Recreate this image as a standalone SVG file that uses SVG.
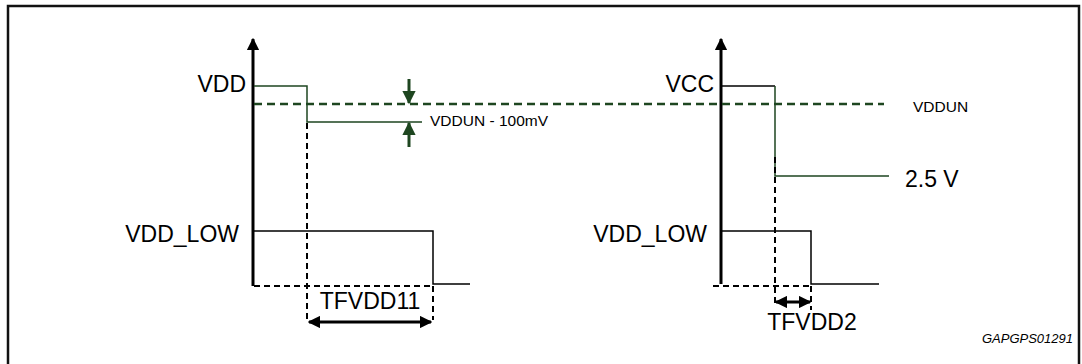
<svg xmlns="http://www.w3.org/2000/svg" width="1082" height="364" viewBox="0 0 1082 364">
<defs>
<style>
text{font-family:"Liberation Sans",Arial,sans-serif;fill:#000}
.lbl{font-size:23px}
.sm{font-size:15.5px}
.axis{stroke:#000;stroke-width:3;fill:none}
.blk{stroke:#000;stroke-width:1.5;fill:none}
.grn{stroke:#1e4620;stroke-width:1.5;fill:none}
.gdash{stroke:#1e4620;stroke-width:2.5;stroke-dasharray:8,5;fill:none}
.bdash{stroke:#000;stroke-width:2;stroke-dasharray:6,4;fill:none}
</style>
<marker id="ah" viewBox="0 0 10 10" refX="9" refY="5" markerWidth="4.3" markerHeight="4.2" orient="auto-start-reverse" markerUnits="strokeWidth"><path d="M0,0L10,5L0,10z" fill="#000"/></marker>
<marker id="gh" viewBox="0 0 10 10" refX="9" refY="5" markerWidth="4.6" markerHeight="4.4" orient="auto" markerUnits="strokeWidth"><path d="M0,0L10,5L0,10z" fill="#1e4620"/></marker>
</defs>
<path d="M8,364V6H1079V364" fill="none" stroke="#111" stroke-width="2.5"/>
<g id="connectors">
<line class="axis" x1="253" y1="286" x2="253" y2="39" marker-end="url(#ah)"/>
<line class="axis" x1="721" y1="284" x2="721" y2="39" marker-end="url(#ah)"/>
<line class="gdash" x1="254" y1="104" x2="884" y2="104"/>
<path class="grn" d="M254,86H307V122H422"/>
<line stroke="#1e4620" stroke-width="3" x1="409" y1="79" x2="409" y2="103" marker-end="url(#gh)"/>
<line stroke="#1e4620" stroke-width="3" x1="409" y1="147" x2="409" y2="123" marker-end="url(#gh)"/>
<path class="blk" d="M254,231H433V284H470"/>
<line class="bdash" x1="254" y1="286" x2="433" y2="286"/>
<line class="bdash" x1="307" y1="123" x2="307" y2="320"/>
<line class="bdash" x1="433" y1="286" x2="433" y2="320"/>
<line stroke="#000" stroke-width="3" x1="309" y1="322" x2="431" y2="322" marker-start="url(#ah)" marker-end="url(#ah)"/>
<path class="blk" d="M722,86H775"/>
<path class="grn" d="M775,86V176H889"/>
<line class="bdash" x1="775" y1="157" x2="775" y2="304"/>
<path class="blk" d="M722,231H811V284H879"/>
<line class="bdash" x1="713" y1="286" x2="811" y2="286"/>
<line class="bdash" x1="811" y1="286" x2="811" y2="310"/>
<line stroke="#000" stroke-width="3" x1="776" y1="302" x2="810" y2="302" marker-start="url(#ah)" marker-end="url(#ah)"/>
</g>
<g id="labels-left">
<text class="lbl" x="246" y="92" text-anchor="end">VDD</text>
<text class="lbl" x="239" y="242" text-anchor="end">VDD_LOW</text>
<text class="sm" x="430" y="126">VDDUN - 100mV</text>
<text class="lbl" x="370" y="309" text-anchor="middle">TFVDD11</text>
</g>
<g id="labels-right">
<text class="lbl" x="714" y="92" text-anchor="end">VCC</text>
<text class="lbl" x="707" y="242" text-anchor="end">VDD_LOW</text>
<text class="sm" x="913" y="112">VDDUN</text>
<text class="lbl" x="905" y="187">2.5 V</text>
<text class="lbl" x="812" y="330" text-anchor="middle">TFVDD2</text>
<text x="1073" y="343" text-anchor="end" font-size="13" font-style="italic">GAPGPS01291</text>
</g>
</svg>
